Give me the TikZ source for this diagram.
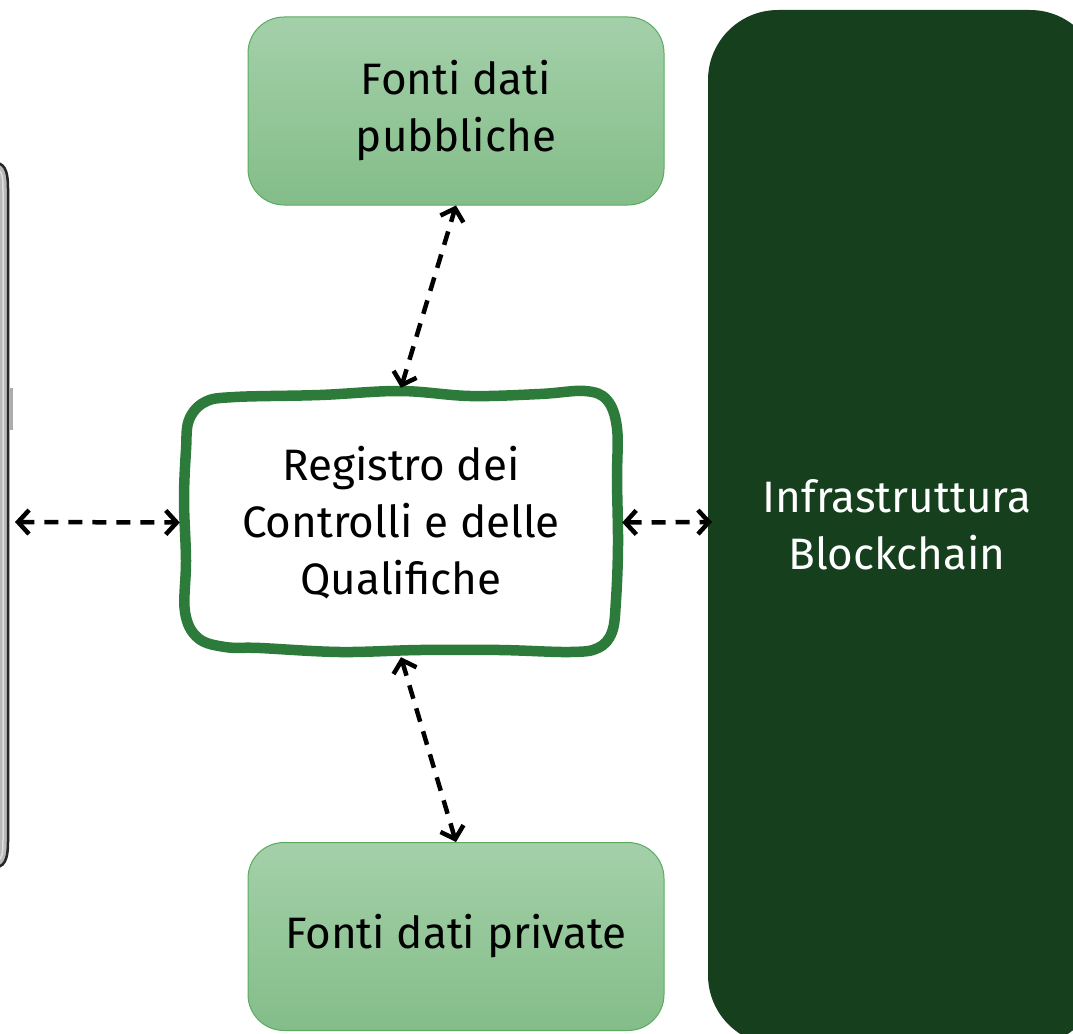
\documentclass[tikz,border=0pt]{standalone}
\usepackage{fontspec}
\setmainfont{Fira Sans}
\usetikzlibrary{arrows.meta}
\definecolor{boxtop}{HTML}{A4D0A9}
\definecolor{boxbot}{HTML}{84BD89}
\definecolor{boxline}{HTML}{5AAB5F}
\definecolor{regline}{HTML}{2C7B3B}
\definecolor{chaincol}{HTML}{163F1E}
\begin{document}
\begin{tikzpicture}[x=1pt,y=-1pt,
  txt/.style={align=center, font=\fontsize{44}{57}\selectfont, inner sep=0pt},
  src/.style={txt, rounded corners=36pt, draw=boxline, line width=1pt,
    top color=boxtop, bottom color=boxbot, minimum width=416pt, minimum height=188pt},
  conn/.style={dash pattern=on 14pt off 10pt, line width=4.5pt,
    {Straight Barb[length=11pt,width=24pt,line width=4.5pt]}-{Straight Barb[length=11pt,width=24pt,line width=4.5pt]}}
]
\useasboundingbox (0,0) rectangle (1073,1033);
\clip (0,0) rectangle (1073,1033);

% phone edge
\fill[gray!55] (-40,163) -- (-4,163) to[out=0,in=90] (9,188) -- (9,842) to[out=-90,in=0] (-4,867) -- (-40,867) -- cycle;
\draw[black!85, line width=2.5pt] (-40,163) -- (-4,163) to[out=0,in=90] (8,188) -- (8,842) to[out=-90,in=0] (-4,867) -- (-40,867);
\draw[gray!25, line width=1.5pt] (-40,168) -- (-6,168) to[out=0,in=90] (3,190) -- (3,840) to[out=-90,in=0] (-6,862) -- (-40,862);
\fill[gray!65] (9,388) rectangle (13,430);

% blockchain
\fill[chaincol, rounded corners=70pt] (708,10) rectangle (1100,1045);
\node[txt, text=white] (chain) at (897,525) {Infrastruttura\\Blockchain};
\coordinate (cw) at (712,522);
\coordinate (ph) at (15,522);

% sources
\node[src] (pub) at (456,111) {Fonti dati\\pubbliche};
\node[src] (priv) at (456,936.5) {Fonti dati private};

% registro
\draw[regline, line width=10.5pt, fill=white] plot[smooth cycle, tension=0.6] coordinates {
  (235,397) (320,395) (400,391) (470,396) (540,394) (585,391)
  (607,400) (617,428) (617,480) (618,545) (616,600) (612,632)
  (598,648) (570,652) (500,650) (420,650) (340,652) (260,648) (225,647)
  (198,638) (185,612) (186,560) (184,500) (186,450) (189,420) (205,402)};
\node[txt, minimum width=442pt, minimum height=269pt] (reg) at (401,522.5) {Registro dei\\Controlli e delle\\Qualifiche};

% connectors
\draw[conn] (ph) -- (reg.west);
\draw[conn] (reg.east) -- (cw);
\draw[conn] (reg.north) -- (pub.south);
\draw[conn] (reg.south) -- (priv.north);
\end{tikzpicture}
\end{document}
